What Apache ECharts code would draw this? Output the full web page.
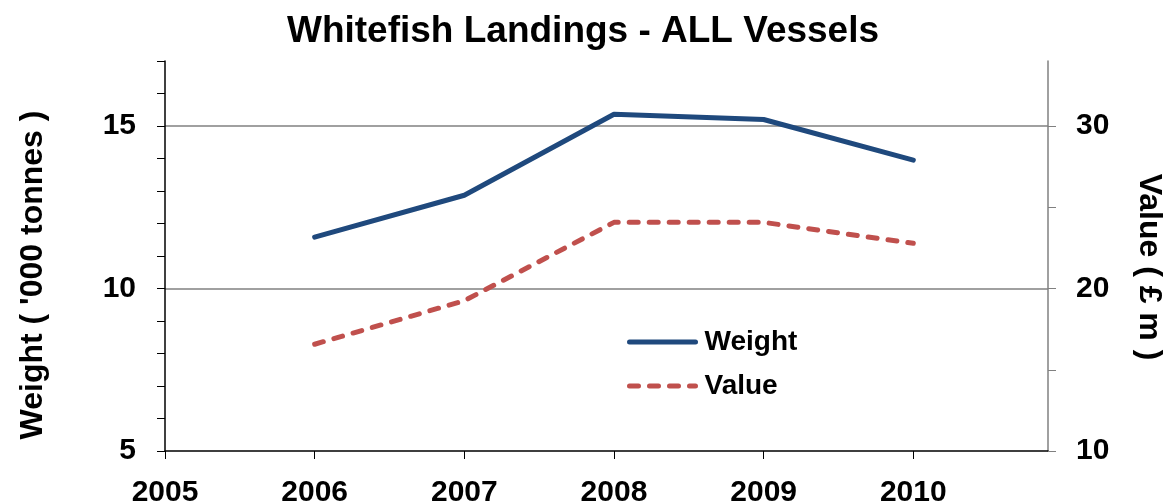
<!DOCTYPE html>
<html>
<head>
<meta charset="utf-8">
<script src="https://cdn.jsdelivr.net/npm/echarts@6/dist/echarts.min.js"></script>
<style>
  html, body { margin: 0; padding: 0; background: #fff; }
  #chart { width: 1166px; height: 503px; }
</style>
</head>
<body>
<div id="chart"></div>
<script>
// data
const years = [2006, 2007, 2008, 2009, 2010]
const weight = [11.58, 12.87, 15.36, 15.2, 13.95] // '000 tonnes
const value = [16.57, 19.25, 24.07, 24.07, 22.78] // £ m
const yearTicks = [2005, 2006, 2007, 2008, 2009, 2010]
const weightTicks = [5, 6, 7, 8, 9, 10, 11, 12, 13, 14, 15, 16, 17]
const weightLabels = [5, 10, 15]
const valueTicks = [10, 15, 20, 25, 30]
const valueLabels = [10, 20, 30]

const FONT = '"Liberation Sans", Arial, sans-serif'
const BLUE = '#1F497D'
const RED = '#C0504D'

const chart = echarts.init(document.getElementById('chart'))

const labelStyle = { fontFamily: FONT, fontSize: 30, fontWeight: 'bold', color: '#000' }

chart.setOption({
  animation: false,
  title: {
    text: 'Whitefish Landings - ALL Vessels',
    left: 'center',
    top: 8,
    textStyle: { fontFamily: FONT, fontSize: 37, fontWeight: 'bold', color: '#000' },
  },
  legend: {
    orient: 'vertical',
    left: 622,
    top: 322,
    itemWidth: 66,
    itemHeight: 14,
    itemGap: 14,
    itemStyle: { opacity: 0 },
    lineStyle: { width: 5, cap: 'round' },
    textStyle: { fontFamily: FONT, fontSize: 28, fontWeight: 'bold', color: '#000', lineHeight: 30, padding: [0, 0, 0, 4] },
    data: ['Weight', 'Value'],
  },
  grid: { left: 165, right: 118, top: 61, bottom: 52, outerBoundsMode: 'none' },
  xAxis: {
    type: 'value',
    min: 2005,
    max: 2010.9,
    interval: 1,
    axisLine: { lineStyle: { color: '#000', width: 1.5 } },
    axisTick: { show: true, length: 8, customValues: yearTicks, lineStyle: { color: '#000' } },
    axisLabel: Object.assign({
      customValues: yearTicks,
      margin: 27,
      formatter: (v) => String(v),
    }, labelStyle),
    splitLine: { show: false },
  },
  yAxis: [
    {
      type: 'value',
      position: 'left',
      min: 5,
      max: 17,
      name: "Weight ( '000 tonnes )",
      nameLocation: 'middle',
      nameGap: 116,
      nameRotate: 90,
      nameTextStyle: { fontFamily: FONT, fontSize: 32, fontWeight: 'bold', color: '#000', padding: [0, 38, 0, 0] },
      axisLine: { show: true, lineStyle: { color: '#000', width: 1.5 } },
      axisTick: { show: true, length: 8, customValues: weightTicks, lineStyle: { color: '#000' } },
      axisLabel: Object.assign({ customValues: weightLabels, margin: 29 }, labelStyle),
      splitLine: { show: false },
    },
    {
      type: 'value',
      position: 'right',
      min: 10,
      max: 34,
      name: 'Value ( £ m )',
      nameLocation: 'middle',
      nameGap: 85,
      nameRotate: -90,
      nameTextStyle: { fontFamily: FONT, fontSize: 32, fontWeight: 'bold', color: '#000', padding: [0, 0, 0, 22] },
      axisLine: { show: true, lineStyle: { color: '#808080', width: 1.5 } },
      axisTick: { show: true, length: 8, customValues: valueTicks, lineStyle: { color: '#808080' } },
      axisLabel: Object.assign({ customValues: valueLabels, margin: 28 }, labelStyle),
      splitLine: { show: false },
    },
    {
      // gridlines only, every 5 on the weight scale
      type: 'value',
      position: 'left',
      min: 5,
      max: 17,
      interval: 5,
      axisLine: { show: false },
      axisTick: { show: false },
      axisLabel: { show: false },
      splitLine: {
        show: true,
        showMinLine: false,
        showMaxLine: false,
        lineStyle: { color: '#A0A0A0', width: 2 },
      },
    },
  ],
  series: [
    {
      name: 'Weight',
      type: 'line',
      yAxisIndex: 0,
      symbol: 'none',
      data: years.map((y, i) => [y, weight[i]]),
      lineStyle: { color: BLUE, width: 5, cap: 'round', join: 'round' },
      itemStyle: { color: BLUE },
      z: 3,
    },
    {
      name: 'Value',
      type: 'line',
      yAxisIndex: 1,
      symbol: 'none',
      data: years.map((y, i) => [y, value[i]]),
      lineStyle: { color: RED, width: 5, type: [9, 11], cap: 'round', join: 'round' },
      itemStyle: { color: RED },
      z: 3,
    },
  ],
})
</script>
</body>
</html>
